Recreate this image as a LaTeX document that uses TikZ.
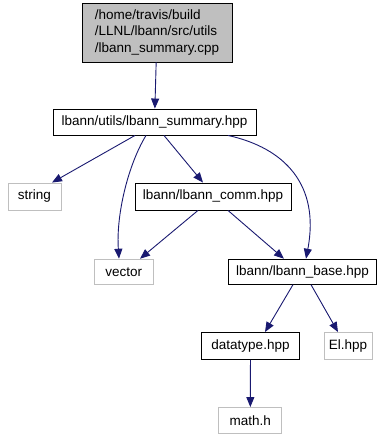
\documentclass[tikz,border=0pt]{standalone}
\usepackage{fontspec}
\setmainfont{Liberation Sans}
\usetikzlibrary{arrows.meta}
\definecolor{edgeblue}{RGB}{25,25,112}
\definecolor{boxgray}{RGB}{191,191,191}

\begin{document}
\begin{tikzpicture}[x=1pt, y=-1pt, >={Triangle[length=10pt, width=8pt]},
    file/.style={draw=black, line width=0.9pt, inner sep=0pt, font=\fontsize{13.5}{16.5}\selectfont},
    ext/.style={draw=boxgray, line width=0.9pt, inner sep=0pt, font=\fontsize{13.5}{16.5}\selectfont},
    dep/.style={->, edgeblue, line width=0.9pt}]
                \useasboundingbox (0,0) rectangle (388,440);

                % Source file (top)
                \node[file, fill=boxgray, minimum width=150, minimum height=59, align=left] (cpp) at (157,32.5)
                    {/home/travis/build\\/LLNL/lbann/src/utils\\/lbann\_summary.cpp};

                % Headers
                \node[file, minimum width=203, minimum height=26] (summary) at (154.5,122) {lbann/utils/lbann\_summary.hpp};
                \node[file, minimum width=156, minimum height=27] (comm) at (213,196.5) {lbann/lbann\_comm.hpp};
                \node[file, minimum width=148, minimum height=25] (base) at (302.5,271.7) {lbann/lbann\_base.hpp};
                \node[file, minimum width=98, minimum height=27] (datatype) at (250.5,346) {datatype.hpp};

                % External headers
                \node[ext, minimum width=53, minimum height=27] (string) at (34.5,196.5) {string};
                \node[ext, minimum width=59, minimum height=25] (vector) at (123.7,271.7) {vector};
                \node[ext, minimum width=48, minimum height=27] (el) at (348,346) {El.hpp};
                \node[ext, minimum width=63, minimum height=26] (math) at (250.3,420.5) {math.h};

                % Include edges
                \draw[dep] (cpp) -- (summary);
                \draw[dep] (summary.south -| 135,0) -- (string.north -| 52,0);
                \draw[dep] (summary.south -| 146,0) .. controls (128,165) and (116,215) .. (vector.north -| 119,0);
                \draw[dep] (summary.south -| 164,0) -- (comm.north -| 203,0);
                \draw[dep] (summary.south -| 228,0) .. controls (285,148) and (320,185) .. (base.north -| 306,0);
                \draw[dep] (comm.south -| 198,0) -- (vector.north -| 140,0);
                \draw[dep] (comm.south -| 228,0) -- (base.north -| 284,0);
                \draw[dep] (base.south -| 293,0) -- (datatype.north -| 265,0);
                \draw[dep] (base.south -| 311,0) -- (el.north -| 338,0);
                \draw[dep] (datatype) -- (math);
            \end{tikzpicture}
\end{document}
